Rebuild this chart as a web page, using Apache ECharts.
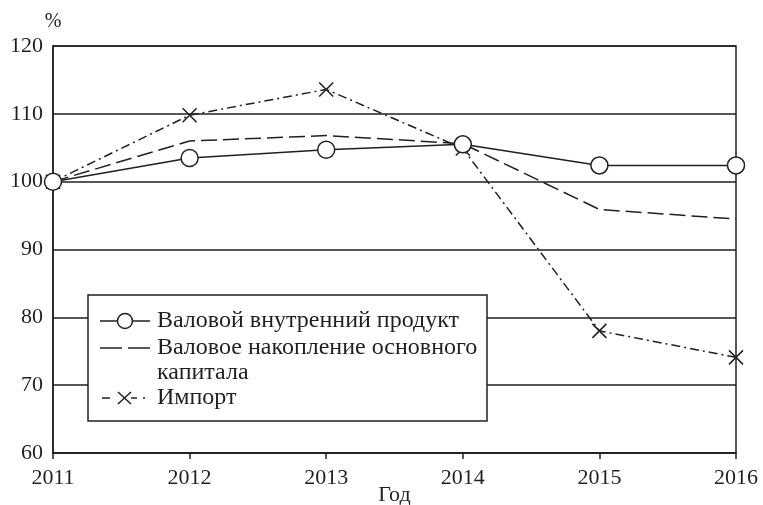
<!DOCTYPE html>
<html><head><meta charset="utf-8">
<script src="https://cdn.jsdelivr.net/npm/echarts@6/dist/echarts.min.js"></script>
<style>html,body{margin:0;padding:0;background:#fff}#c{width:763px;height:505px}</style>
</head><body><div id="c"></div>
<script>
const years = ['2011','2012','2013','2014','2015','2016'];
const gdp = [100, 103.5, 104.7, 105.5, 102.4, 102.4];
const gfcf = [100, 106.0, 106.8, 105.6, 95.9, 94.5];
const imports = [100, 109.8, 113.6, 104.9, 78.0, 74.1];
const names = ['Валовой внутренний продукт', 'Валовое накопление основного', 'капитала', 'Импорт'];

const C = '#231f20';
const FONT = 'Liberation Serif';
const chart = echarts.init(document.getElementById('c'));
const lg = {x: 88, y: 295, w: 399, h: 126};
const txt = (t, x, y) => ({type: 'text', z: 101, x: x, y: y, style: {text: t, font: '24px "Liberation Serif"', fill: C, verticalAlign: 'middle', align: 'left'}});
const ln = (x1, y1, x2, y2) => ({type: 'line', z: 101, shape: {x1, y1, x2, y2}, style: {stroke: C, lineWidth: 1.5}});
chart.setOption({
  animation: false,
  grid: {left: 53, right: 27, top: 46, bottom: 52, show: true, borderColor: C, borderWidth: 1.5, backgroundColor: 'transparent', outerBoundsMode: 'none', containLabel: false},
  xAxis: {
    type: 'category', data: years, boundaryGap: false,
    name: 'Год', nameLocation: 'middle', nameGap: 31, nameMoveOverlap: false,
    nameTextStyle: {fontFamily: FONT, fontSize: 22, color: C},
    axisLine: {lineStyle: {color: C, width: 1.5}},
    axisTick: {show: true, length: 6, lineStyle: {color: C, width: 1.5}},
    axisLabel: {fontFamily: FONT, fontSize: 22, color: C, margin: 14},
    splitLine: {show: false}
  },
  yAxis: {
    type: 'value', min: 60, max: 120, interval: 10,
    name: '%', nameLocation: 'end', nameGap: 14,
    nameTextStyle: {fontFamily: FONT, fontSize: 20, color: C, align: 'center'},
    axisLine: {show: true, lineStyle: {color: C, width: 1.5}},
    axisTick: {show: false},
    axisLabel: {fontFamily: FONT, fontSize: 22, color: C, margin: 10},
    splitLine: {lineStyle: {color: C, width: 1.5}}
  },
  series: [
    {name: names[0], type: 'line', data: gdp, symbol: 'circle', symbolSize: 17, showAllSymbol: true,
     lineStyle: {color: C, width: 1.5}, itemStyle: {color: '#fff', borderColor: C, borderWidth: 1.5}, z: 4},
    {name: names[1], type: 'line', data: gfcf, symbol: 'none',
     lineStyle: {color: C, width: 1.5, type: [16, 6]}, z: 3},
    {name: names[3], type: 'line', data: imports, symbol: 'path://M0,0L10,10M10,0L0,10', symbolSize: 14,
     lineStyle: {color: C, width: 1.5, type: [9, 4, 2, 4]},
     itemStyle: {color: 'transparent', borderColor: C, borderWidth: 1.5}, z: 2}
  ],
  graphic: [
    {type: 'rect', z: 100, shape: {x: lg.x, y: lg.y, width: lg.w, height: lg.h}, style: {fill: '#fff', stroke: C, lineWidth: 1.5}},
    ln(100, 321, 150, 321),
    {type: 'circle', z: 102, shape: {cx: 125, cy: 321, r: 7.5}, style: {fill: '#fff', stroke: C, lineWidth: 1.5}},
    txt(names[0], 157, 321),
    ln(100, 348, 122, 348),
    ln(128, 348, 150, 348),
    txt(names[1], 157, 348),
    txt(names[2], 157, 373),
    ln(102, 398, 110, 398),
    ln(118, 392, 131, 404),
    ln(118, 404, 131, 392),
    ln(131, 398, 137, 398),
    ln(143, 398, 145, 398),
    txt(names[3], 157, 398)
  ]
});
</script></body></html>
